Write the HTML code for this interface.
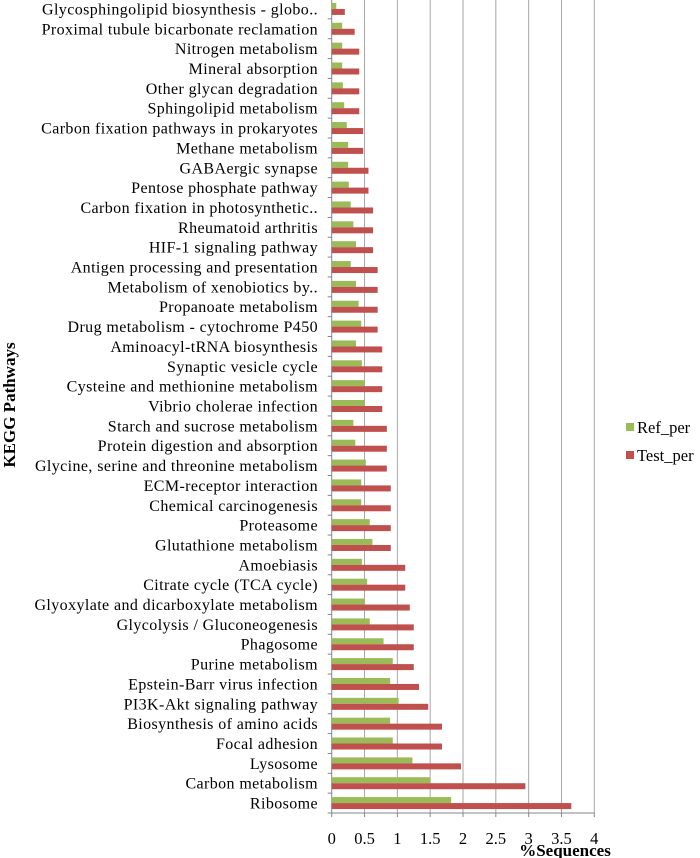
<!DOCTYPE html>
<html><head><meta charset="utf-8"><style>
html,body{margin:0;padding:0;background:#fff;}
svg{display:block;font-family:"Liberation Serif",serif;}
</style></head><body>
<svg id="chart" width="700" height="858" viewBox="0 0 700 858" xmlns="http://www.w3.org/2000/svg">
<g id="grid"></g>
<g id="bars"></g>
<g id="ylabels"></g>
<g id="xlabels"></g>
<text transform="translate(15,405) rotate(-90)" text-anchor="middle" font-weight="bold" font-size="17">KEGG Pathways</text>
<text x="565" y="856" text-anchor="middle" font-weight="bold" font-size="17">%Sequences</text>
<g>
<rect x="626" y="423" width="8" height="8" fill="#9bbb59"/>
<text x="637" y="433" font-size="16.5">Ref_per</text>
<rect x="626" y="451" width="8" height="8" fill="#c0504d"/>
<text x="637" y="461" font-size="16.5">Test_per</text>
</g>
</svg>
<script>
const categories = ["Glycosphingolipid biosynthesis - globo..","Proximal tubule bicarbonate reclamation","Nitrogen metabolism","Mineral absorption","Other glycan degradation","Sphingolipid metabolism","Carbon fixation pathways in prokaryotes","Methane metabolism","GABAergic synapse","Pentose phosphate pathway","Carbon fixation in photosynthetic..","Rheumatoid arthritis","HIF-1 signaling pathway","Antigen processing and presentation","Metabolism of xenobiotics by..","Propanoate metabolism","Drug metabolism - cytochrome P450","Aminoacyl-tRNA biosynthesis","Synaptic vesicle cycle","Cysteine and methionine metabolism","Vibrio cholerae infection","Starch and sucrose metabolism","Protein digestion and absorption","Glycine, serine and threonine metabolism","ECM-receptor interaction","Chemical carcinogenesis","Proteasome","Glutathione metabolism","Amoebiasis","Citrate cycle (TCA cycle)","Glyoxylate and dicarboxylate metabolism","Glycolysis / Gluconeogenesis","Phagosome","Purine metabolism","Epstein-Barr virus infection","PI3K-Akt signaling pathway","Biosynthesis of amino acids","Focal adhesion","Lysosome","Carbon metabolism","Ribosome"];
const refValues = [0.07,0.16,0.16,0.16,0.17,0.19,0.23,0.25,0.25,0.26,0.29,0.33,0.37,0.29,0.37,0.41,0.45,0.37,0.46,0.50,0.50,0.33,0.36,0.52,0.45,0.45,0.58,0.62,0.46,0.54,0.50,0.58,0.79,0.93,0.89,1.02,0.89,0.93,1.23,1.50,1.82];
const testValues = [0.20,0.35,0.42,0.42,0.42,0.42,0.48,0.48,0.56,0.56,0.63,0.63,0.63,0.70,0.70,0.70,0.70,0.77,0.77,0.77,0.77,0.84,0.84,0.84,0.90,0.90,0.90,0.90,1.12,1.12,1.19,1.25,1.25,1.25,1.33,1.47,1.68,1.68,1.97,2.95,3.65];
const xTicks = [0,0.5,1,1.5,2,2.5,3,3.5,4];
const xTickLabels = ["0","0.5","1","1.5","2","2.5","3","3.5","4"];

const NS="http://www.w3.org/2000/svg";
const X0=331.7, X1=594.3, XMAX=4, TOP=-1, BOT=813;
const n=categories.length;
const step=(BOT-TOP)/n;
function xs(v){return X0+(v/XMAX)*(X1-X0);}
function yc(i){return TOP+step*(i+0.5);}
function mk(tag,attrs,parent){const e=document.createElementNS(NS,tag);for(const k in attrs)e.setAttribute(k,attrs[k]);parent.appendChild(e);return e;}
const grid=document.getElementById('grid'),bars=document.getElementById('bars'),yl=document.getElementById('ylabels'),xl=document.getElementById('xlabels');
xTicks.forEach((t,i)=>{
  if(t>0){const g=mk('line',{x1:xs(t),x2:xs(t),y1:TOP,y2:BOT,stroke:'#a6a6a6','stroke-width':1},grid);
  
  }
  const tl=mk('text',{x:xs(t),y:844,'text-anchor':'middle','font-size':16.5},xl);
  tl.textContent=xTickLabels[i];
  
  
});
const ax=mk('line',{x1:X0,x2:X0,y1:TOP,y2:BOT,stroke:'#868686','stroke-width':1},grid);


const bx=mk('line',{x1:X0,x2:X1,y1:BOT,y2:BOT,stroke:'#868686','stroke-width':1},grid);


for(let i=0;i<=n;i++){const t=mk('line',{x1:X0-4,x2:X0,y1:TOP+step*i,y2:TOP+step*i,stroke:'#868686'},grid);

}
xTicks.forEach(t=>{const k=mk('line',{x1:xs(t),x2:xs(t),y1:BOT,y2:BOT+4,stroke:'#868686'},grid);

});
categories.forEach((c,i)=>{
  const y=yc(i);
  const g=mk('rect',{x:X0,y:y-6,width:xs(refValues[i])-X0,height:6,fill:'#9bbb59'},bars);
  
  
  const r=mk('rect',{x:X0,y:y,width:xs(testValues[i])-X0,height:6,fill:'#c0504d'},bars);
  
  
  const t=mk('text',{x:318,y:y+5.5,'text-anchor':'end','font-size':16,'letter-spacing':0.4},yl);
  t.textContent=c;
  
  
});
</script>
</body></html>
